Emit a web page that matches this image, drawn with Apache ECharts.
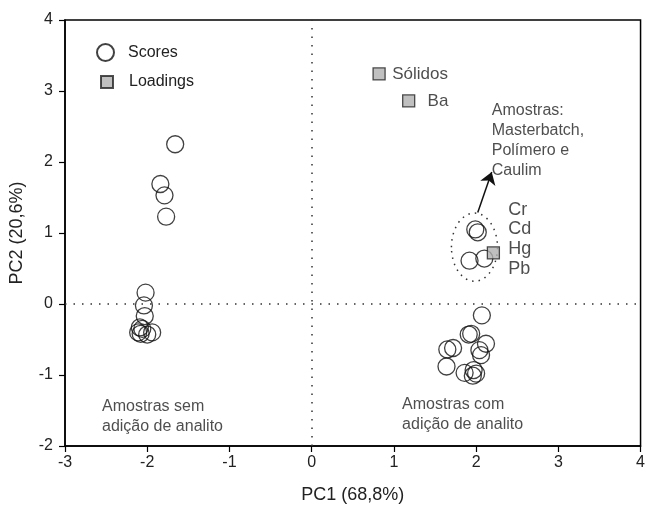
<!DOCTYPE html>
<html><head><meta charset="utf-8">
<script src="https://cdn.jsdelivr.net/npm/echarts@6/dist/echarts.min.js"></script>
<style>html,body{margin:0;padding:0;background:#fff}#c{width:648px;height:509px}</style>
</head><body><div id="c"></div>
<script>
const xTicks = [-3,-2,-1,0,1,2,3,4];
const yTicks = [-2,-1,0,1,2,3,4];
const scoresX = [-1.66,-1.84,-1.79,-1.77, -2.02,-2.04,-2.03,-2.09,-1.94,-2.08,-2.00,-2.11,-2.06, 1.99,2.02,1.92,2.10, 2.07,1.91,1.94,2.12,1.72,1.65,2.04,2.06,1.64,1.86,1.96,2.00,1.97];
const scoresY = [2.25,1.69,1.53,1.23, 0.16,-0.02,-0.17,-0.33,-0.40,-0.42,-0.43,-0.40,-0.35, 1.05,1.01,0.61,0.64, -0.16,-0.43,-0.42,-0.56,-0.62,-0.64,-0.65,-0.72,-0.88,-0.97,-1.01,-0.98,-0.93];
const loadNames = ['Sólidos','Ba','Pb'];
const loadX = [0.82,1.18,2.21];
const loadY = [3.24,2.86,0.72];
const noteTexts = ['Sólidos','Ba','Amostras:\nMasterbatch,\nPolímero e\nCaulim','Cr','Cd','Hg','Pb','Amostras sem\nadição de analito','Amostras com\nadição de analito'];
const noteX = [0.98,1.41,2.19,2.39,2.39,2.39,2.39,-2.55,1.1];
const noteY = [3.24,2.86,2.30,1.32,1.05,0.77,0.49,-1.58,-1.56];
const noteSize = [17,17,16,18,18,18,18,16,16];
const ellipse = [1.98,0.80,0.28,0.48];
const arrowFrom = [2.02,1.29];
const arrowTo = [2.19,1.86];

const FONT = '"Liberation Sans", Arial, sans-serif';
const chart = echarts.init(document.getElementById('c'));
const scores = scoresX.map((x,i)=>[x,scoresY[i]]);
const loads = loadX.map((x,i)=>[x,loadY[i],loadNames[i]]);
const notes = noteX.map((x,i)=>({value:[x,noteY[i],noteTexts[i]],label:{fontSize:noteSize[i],lineHeight:noteSize[i]>16?20:20}}));
chart.setOption({
  animation:false,
  grid:{left:65,right:4,top:20,bottom:63,show:true,borderColor:'#000',borderWidth:1.5,backgroundColor:'transparent'},
  xAxis:{type:'value',min:-3,max:4,interval:1,
    name:'PC1 (68,8%)',nameLocation:'middle',nameGap:40,nameTextStyle:{fontFamily:FONT,fontSize:18,color:'#222'},
    axisLine:{show:true,onZero:false,lineStyle:{color:'#000',width:1.5}},
    axisTick:{show:true,inside:false,length:6,lineStyle:{color:'#000',width:1.2}},
    axisLabel:{fontFamily:FONT,fontSize:16,color:'#222',margin:9,formatter:v=>xTicks.includes(v)?String(v):''},
    splitLine:{show:false}},
  yAxis:{type:'value',min:-2,max:4,interval:1,
    name:'PC2 (20,6%)',nameLocation:'middle',nameGap:39,nameTextStyle:{fontFamily:FONT,fontSize:18,color:'#222'},
    axisLine:{show:true,onZero:false,lineStyle:{color:'#000',width:1.5}},
    axisTick:{show:true,inside:false,length:6,lineStyle:{color:'#000',width:1.2}},
    axisLabel:{fontFamily:FONT,fontSize:16,color:'#222',margin:12,formatter:v=>yTicks.includes(v)?String(v):''},
    splitLine:{show:false}},
  legend:[
    {show:true,left:91,top:38,padding:5,itemWidth:17,itemHeight:17,
      textStyle:{fontFamily:FONT,fontSize:16,color:'#222',padding:[0,0,0,9]},
      data:[{name:'Scores',icon:'circle'}]},
    {show:true,left:95,top:69,padding:5,itemWidth:12,itemHeight:12,
      textStyle:{fontFamily:FONT,fontSize:16,color:'#222',padding:[0,0,0,11]},
      data:[{name:'Loadings',icon:'rect'}]}
  ],
  series:[
    {type:'line',silent:true,data:[],markLine:{silent:true,symbol:'none',label:{show:false},
      lineStyle:{type:[1.5,7],color:'#333',width:1.5},
      data:[{xAxis:0},{yAxis:0}]}},
    {type:'custom',silent:true,data:[ellipse],renderItem:(p,api)=>{
      const c=api.coord([api.value(0),api.value(1)]);
      const s=api.size([api.value(2),api.value(3)]);
      return {type:'ellipse',shape:{cx:c[0],cy:c[1],rx:s[0],ry:s[1]},
        style:{fill:'none',stroke:'#333',lineWidth:1.5,lineDash:[1.5,5]}};
    }},
    {type:'lines',coordinateSystem:'cartesian2d',silent:true,
      symbol:['none','arrow'],symbolSize:[7,12],
      lineStyle:{color:'#111',width:1.5,opacity:1},
      data:[{coords:[arrowFrom,arrowTo]}]},
    {name:'Scores',type:'scatter',symbol:'circle',symbolSize:17,data:scores,
      itemStyle:{color:'rgba(255,255,255,0)',borderColor:'#111',borderWidth:1.3}},
    {name:'Loadings',type:'scatter',symbol:'rect',symbolSize:12,data:loads,
      itemStyle:{color:'#b0b0b0',borderColor:'#222',borderWidth:1.3}},
    {type:'scatter',silent:true,symbolSize:0,data:notes,
      label:{show:true,position:'right',distance:0,formatter:p=>p.data.value[2],
        fontFamily:FONT,fontSize:16,color:'#222',lineHeight:20,align:'left'}}
  ]
});
</script></body></html>
